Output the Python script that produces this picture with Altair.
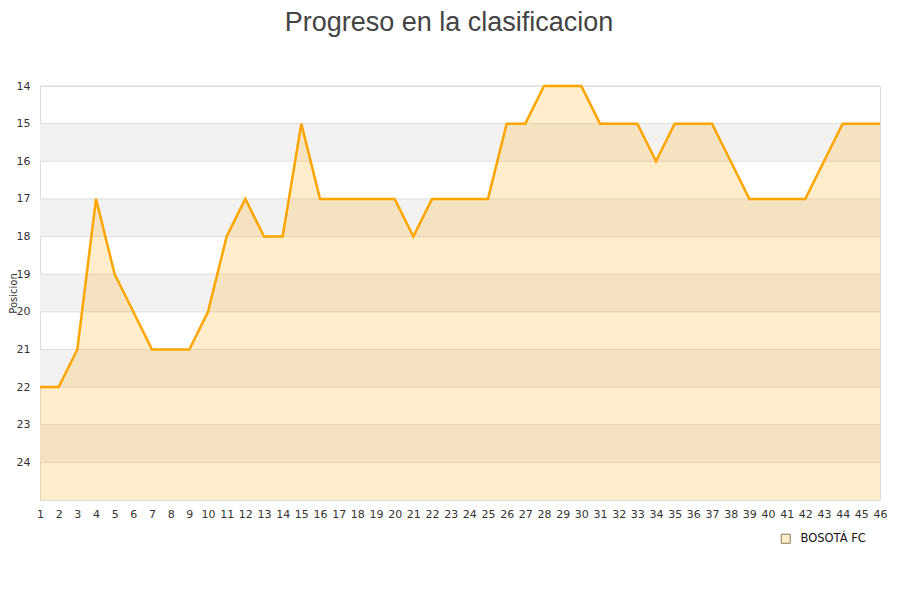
import altair as alt
import pandas as pd

jornadas = list(range(1, 47))
posiciones = [22, 22, 21, 17, 19, 20, 21, 21, 21, 20,
              18, 17, 18, 18, 15, 17, 17, 17, 17, 17,
              18, 17, 17, 17, 17, 15, 15, 14, 14, 14,
              15, 15, 15, 16, 15, 15, 15, 16, 17, 17,
              17, 17, 16, 15, 15, 15]
equipo = "BOSOTÁ FC"
band_starts = [15, 17, 19, 21, 23]
y_ticks = list(range(14, 25))
y_bottom = 25

df = pd.DataFrame({"jornada": jornadas, "pos": posiciones, "equipo": [equipo] * len(jornadas)})
bands = pd.DataFrame({"y1": band_starts, "y2": [b + 1 for b in band_starts]})
grid = pd.DataFrame({"y": y_ticks})

xs = alt.Scale(domain=[1, 46], nice=False, zero=False)
ys = alt.Scale(domain=[14, 25], reverse=True, nice=False, zero=False)

x_axis = alt.Axis(values=jornadas, title=None, ticks=False, domain=False,
                  grid=False, labelFontSize=11, labelColor="#333333",
                  labelPadding=8, labelFont="DejaVu Sans", labelFlush=False,
                  labelOverlap=False, labelBound=False)
y_axis = alt.Axis(values=y_ticks, title="Posicion", ticks=False, domain=False,
                  grid=False, labelFontSize=11, labelColor="#333333",
                  labelPadding=10, labelFont="DejaVu Sans", labelOverlap=False,
                  titleFontSize=10, titleFontWeight="normal", titleColor="#333333",
                  titleFont="DejaVu Sans", titleX=-22, titleY=207,
                  titleAngle=270, titleAlign="center", titleBaseline="bottom")

band_layer = alt.Chart(bands).mark_rect(color="#f2f2f2").encode(
    x=alt.value(0), x2=alt.value(840),
    y=alt.Y("y1:Q", scale=ys, axis=y_axis), y2="y2:Q",
)
grid_layer = alt.Chart(grid).mark_rule(color="#dddddd", strokeWidth=1).encode(
    y=alt.Y("y:Q", scale=ys, axis=y_axis), x=alt.value(0), x2=alt.value(840),
)
area = alt.Chart(df).mark_area(interpolate="linear").encode(
    x=alt.X("jornada:Q", scale=xs, axis=x_axis),
    y=alt.Y("pos:Q", scale=ys, axis=y_axis),
    y2=alt.Y2(datum=y_bottom),
    fill=alt.Fill("equipo:N", scale=alt.Scale(range=["rgba(255,165,0,0.2)"]),
                  legend=alt.Legend(title=None, orient="none", legendX=740, legendY=447,
                                    symbolType="square", symbolSize=81,
                                    symbolStrokeColor="#8a7a5a", symbolStrokeWidth=1,
                                    labelOffset=9,
                                    labelFontSize=11.5, labelFont="DejaVu Sans",
                                    labelColor="#111111")),
)
line = alt.Chart(df).mark_line(color="#ffa500", strokeWidth=2.5).encode(
    x=alt.X("jornada:Q", scale=xs, axis=x_axis),
    y=alt.Y("pos:Q", scale=ys, axis=y_axis),
)

chart = alt.layer(band_layer, grid_layer, area, line).properties(
    width=840, height=414,
    title=alt.Title("Progreso en la clasificacion", fontSize=27, font="Liberation Sans",
                    fontWeight="normal", color="#444444", anchor="middle",
                    dx=-11, offset=43),
    autosize=alt.AutoSizeParams(type="none"),
    padding={"left": 32, "top": 78, "right": 12, "bottom": 90},
).configure_view(stroke="#dddddd", strokeWidth=1).configure_axisX(labelOverlap=False)

chart.save("out.html", embed_options={"renderer": "svg", "actions": False})
